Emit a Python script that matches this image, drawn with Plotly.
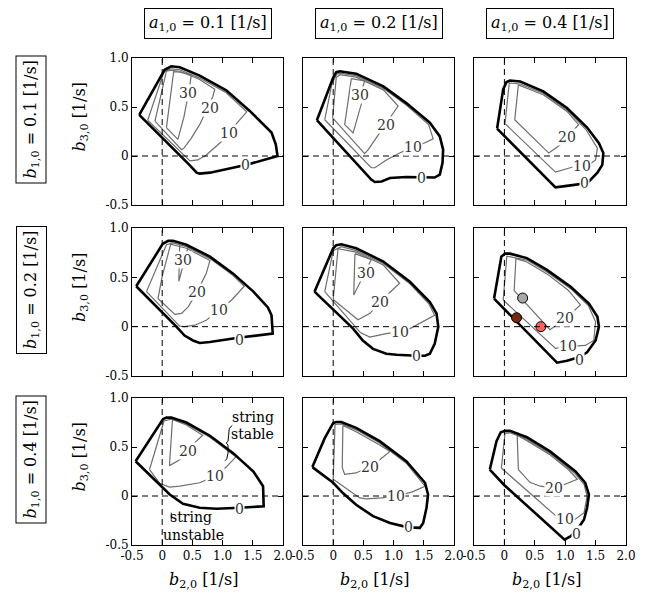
import plotly.graph_objects as go

# ---------------- data ----------------
COL_A = ["0.1", "0.2", "0.4"]          # a_{1,0} per column
ROW_B1 = ["0.1", "0.2", "0.4"]         # b_{1,0} per row
X_TICKVALS = [-0.5, 0, 0.5, 1.0, 1.5, 2.0]
X_TICKTEXT = ["-0.5", "0", "0.5", "1.0", "1.5", "2.0"]
Y_TICKVALS = [-0.5, 0, 0.5, 1.0]
Y_TICKTEXT = ["-0.5", "0", "0.5", "1.0"]

# panel (row 1, col 1)
P11_C0 = [(-0.38, 0.42), (0.04, 0.88), (0.15, 0.915), (0.29, 0.905), (0.62, 0.82), (1.06, 0.67), (1.45, 0.46),
          (1.81, 0.24), (1.88, 0.12), (1.91, 0.0), (1.40, -0.09), (0.79, -0.17), (0.62, -0.18), (0.57, -0.17),
          (0.45, -0.09), (-0.38, 0.42)]
P11_C10 = [(-0.24, 0.365), (0.03, 0.86), (0.15, 0.89), (0.29, 0.88), (0.62, 0.795), (1.06, 0.645), (1.40, 0.45),
           (1.23, 0.33), (1.11, 0.23), (0.95, 0.13), (0.73, 0.01), (0.59, -0.04), (0.46, -0.05), (-0.24, 0.365)]
P11_C20 = [(-0.12, 0.355), (0.07, 0.865), (0.15, 0.875), (0.29, 0.865), (0.62, 0.78), (0.87, 0.68), (0.84, 0.61),
           (0.74, 0.47), (0.62, 0.32), (0.48, 0.18), (0.36, 0.08), (0.32, 0.065), (-0.12, 0.355)]
P11_C30 = [(0.07, 0.29), (0.19, 0.86), (0.29, 0.855), (0.48, 0.83), (0.46, 0.72), (0.41, 0.55), (0.36, 0.40),
           (0.26, 0.17), (0.07, 0.29)]
P11_LABELS = [("0", 1.38, -0.095), ("10", 1.11, 0.23), ("20", 0.79, 0.49), ("30", 0.43, 0.64)]

# panel (row 1, col 2)
P12_C0 = [(-0.27, 0.365), (0.0, 0.80), (0.05, 0.855), (0.11, 0.865), (0.38, 0.84), (0.83, 0.71), (1.21, 0.54),
          (1.60, 0.34), (1.765, 0.20), (1.82, 0.065), (1.81, -0.07), (1.765, -0.19), (1.68, -0.22), (1.46, -0.22),
          (1.21, -0.215), (0.94, -0.225), (0.80, -0.26), (0.69, -0.265), (0.63, -0.24), (-0.27, 0.365)]
P12_C10 = [(-0.14, 0.37), (-0.02, 0.74), (0.06, 0.835), (0.11, 0.845), (0.38, 0.82), (0.83, 0.69), (1.21, 0.52),
           (1.58, 0.32), (1.655, 0.175), (1.50, 0.13), (1.32, 0.09), (1.10, 0.03), (0.88, -0.04), (0.69, -0.12),
           (0.63, -0.12), (-0.14, 0.37)]
P12_C20 = [(-0.01, 0.39), (0.05, 0.80), (0.11, 0.83), (0.38, 0.805), (0.83, 0.675), (1.075, 0.51), (0.94, 0.39),
           (0.87, 0.32), (0.77, 0.235), (0.58, 0.065), (0.52, 0.025), (-0.01, 0.39)]
P12_C30 = [(0.30, 0.79), (0.19, 0.32), (0.33, 0.235), (0.47, 0.54), (0.45, 0.62), (0.52, 0.765), (0.30, 0.79)]
P12_LABELS = [("0", 1.46, -0.22), ("10", 1.32, 0.09), ("20", 0.87, 0.32), ("30", 0.45, 0.62)]

# panel (row 1, col 3)
P13_C0 = [(-0.12, 0.28), (-0.02, 0.68), (0.035, 0.755), (0.09, 0.77), (0.26, 0.76), (0.64, 0.66), (1.03, 0.49),
          (1.36, 0.29), (1.555, 0.13), (1.627, 0.03), (1.61, -0.09), (1.53, -0.17), (1.39, -0.26), (1.31, -0.28),
          (1.09, -0.30), (0.84, -0.32), (-0.12, 0.28)]
P13_C10 = [(0.01, 0.33), (0.08, 0.745), (0.26, 0.735), (0.64, 0.64), (1.03, 0.47), (1.34, 0.27), (1.53, 0.08),
           (1.50, -0.04), (1.39, -0.09), (1.28, -0.105), (1.14, -0.11), (0.84, -0.165), (0.01, 0.33)]
P13_C20 = [(0.17, 0.37), (0.23, 0.725), (0.64, 0.625), (1.03, 0.455), (1.22, 0.32), (1.03, 0.195), (0.92, 0.115),
           (0.73, 0.03), (0.17, 0.37)]
P13_C30 = []
P13_LABELS = [("0", 1.31, -0.28), ("10", 1.28, -0.105), ("20", 1.03, 0.195)]

# panel (row 2, col 1)
P21_C0 = [(-0.43, 0.41), (0.01, 0.84), (0.10, 0.87), (0.18, 0.87), (0.40, 0.83), (0.79, 0.71), (1.17, 0.54),
          (1.51, 0.355), (1.75, 0.195), (1.81, 0.115), (1.83, -0.07), (1.285, -0.11), (0.79, -0.155), (0.62, -0.165),
          (0.51, -0.14), (0.37, -0.09), (0.235, 0.0), (-0.43, 0.41)]
P21_C10 = [(-0.26, 0.355), (0.07, 0.83), (0.18, 0.85), (0.40, 0.81), (0.79, 0.69), (1.17, 0.52), (1.36, 0.41),
           (1.15, 0.27), (0.94, 0.165), (0.73, 0.065), (0.54, 0.015), (0.37, 0.0), (0.29, 0.005), (-0.26, 0.355)]
P21_C20 = [(-0.07, 0.285), (0.0, 0.51), (0.14, 0.835), (0.40, 0.795), (0.79, 0.67), (0.73, 0.54), (0.58, 0.355),
           (0.43, 0.20), (0.32, 0.135), (0.21, 0.125), (-0.07, 0.285)]
P21_C30 = [(0.29, 0.83), (0.275, 0.46), (0.43, 0.81)]
P21_LABELS = [("0", 1.285, -0.135), ("10", 0.94, 0.165), ("20", 0.58, 0.355), ("30", 0.345, 0.68)]

# panel (row 2, col 2)
P22_C0 = [(-0.31, 0.355), (0.0, 0.795), (0.05, 0.825), (0.135, 0.835), (0.38, 0.795), (0.83, 0.66), (1.27, 0.455),
          (1.60, 0.25), (1.71, 0.135), (1.74, 0.0), (1.68, -0.175), (1.60, -0.275), (1.52, -0.295), (1.38, -0.295),
          (1.05, -0.285), (0.88, -0.275), (0.66, -0.225), (0.49, -0.14), (0.33, -0.02), (-0.31, 0.355)]
P22_C10 = [(-0.14, 0.355), (0.0, 0.77), (0.135, 0.81), (0.38, 0.77), (0.83, 0.64), (1.27, 0.435), (1.58, 0.235),
           (1.68, 0.115), (1.27, -0.02), (1.10, -0.05), (0.88, -0.07), (0.605, -0.105), (0.45, -0.06), (-0.14, 0.355)]
P22_C20 = [(0.0, 0.275), (0.08, 0.79), (0.38, 0.755), (0.83, 0.625), (1.10, 0.44), (0.94, 0.35), (0.77, 0.25),
           (0.61, 0.135), (0.41, 0.07), (0.0, 0.275)]
P22_C30 = [(0.36, 0.74), (0.34, 0.32), (0.54, 0.565), (0.63, 0.68), (0.36, 0.74)]
P22_LABELS = [("0", 1.38, -0.295), ("10", 1.10, -0.05), ("20", 0.77, 0.25), ("30", 0.54, 0.54)]

# panel (row 2, col 3)
P23_C0 = [(-0.17, 0.285), (-0.05, 0.71), (0.01, 0.74), (0.09, 0.74), (0.37, 0.695), (0.70, 0.575), (1.09, 0.405),
          (1.39, 0.235), (1.53, 0.10), (1.555, 0.0), (1.50, -0.14), (1.36, -0.26), (1.22, -0.31), (1.03, -0.345),
          (0.865, -0.365), (-0.17, 0.285)]
P23_C10 = [(-0.02, 0.27), (0.04, 0.715), (0.37, 0.675), (0.70, 0.555), (1.09, 0.385), (1.38, 0.215), (1.50, 0.05),
           (1.47, -0.14), (1.33, -0.19), (1.06, -0.20), (0.84, -0.22), (-0.02, 0.27)]
P23_C20 = [(0.16, 0.365), (0.19, 0.69), (0.37, 0.655), (0.70, 0.535), (1.05, 0.37), (1.25, 0.22), (1.0, 0.08),
           (0.75, -0.03), (0.16, 0.365)]
P23_C30 = []
P23_LABELS = [("0", 1.23, -0.335), ("10", 1.05, -0.195), ("20", 1.0, 0.085)]
P23_POINTS_X = [0.30, 0.20, 0.60]
P23_POINTS_Y = [0.29, 0.09, 0.0]
P23_POINT_COLORS = ["#a8a8a8", "#74290c", "#ff5f5f"]

# panel (row 3, col 1)
P31_C0 = [(-0.44, 0.355), (0.015, 0.785), (0.07, 0.80), (0.15, 0.80), (0.40, 0.75), (0.79, 0.615), (1.17, 0.44),
          (1.51, 0.25), (1.67, 0.10), (1.68, -0.105), (1.285, -0.12), (0.90, -0.13), (0.62, -0.12), (0.345, -0.08),
          (0.125, 0.015), (-0.015, 0.10), (-0.15, 0.185), (-0.44, 0.355)]
P31_C10 = [(-0.21, 0.27), (0.03, 0.765), (0.15, 0.785), (0.40, 0.735), (0.79, 0.60), (1.22, 0.40), (1.06, 0.295),
           (0.87, 0.20), (0.62, 0.135), (0.29, 0.10), (0.12, 0.09), (-0.04, 0.13), (-0.21, 0.27)]
P31_C20 = [(0.17, 0.78), (0.12, 0.31), (0.29, 0.37), (0.43, 0.46), (0.55, 0.55), (0.67, 0.62), (0.40, 0.725),
           (0.17, 0.78)]
P31_C30 = []
P31_LABELS = [("0", 1.285, -0.135), ("10", 0.87, 0.20), ("20", 0.43, 0.455)]
BRACE_STABLE = [(1.16, 0.72), (1.11, 0.69), (1.10, 0.62), (1.09, 0.56), (1.06, 0.54), (1.09, 0.52),
                (1.09, 0.44), (1.07, 0.38), (1.04, 0.36)]
BRACE_UNSTABLE = [(0.15, -0.17), (0.15, -0.24)]
NOTES_31 = [("string", 1.50, 0.81), ("stable", 1.50, 0.63), ("string", 0.48, -0.21), ("unstable", 0.51, -0.40)]

# panel (row 3, col 2)
P32_C0 = [(-0.345, 0.295), (-0.14, 0.59), (0.0, 0.745), (0.05, 0.755), (0.135, 0.755), (0.38, 0.695), (0.77, 0.56),
          (1.21, 0.355), (1.52, 0.135), (1.57, 0.015), (1.545, -0.12), (1.49, -0.275), (1.435, -0.325),
          (1.38, -0.325), (1.24, -0.32), (0.94, -0.275), (0.66, -0.205), (0.38, -0.09), (0.16, 0.03), (0.0, 0.135),
          (-0.345, 0.295)]
P32_C10 = [(0.0, 0.17), (0.03, 0.73), (0.135, 0.735), (0.38, 0.675), (0.77, 0.54), (1.21, 0.335), (1.52, 0.10),
           (1.30, 0.04), (1.04, 0.0), (0.80, -0.02), (0.55, -0.03), (0.44, -0.02), (0.0, 0.17)]
P32_C20 = [(0.16, 0.72), (0.15, 0.29), (0.19, 0.22), (0.38, 0.235), (0.605, 0.30), (0.74, 0.355), (0.94, 0.455),
           (0.77, 0.52), (0.38, 0.655), (0.16, 0.72)]
P32_C30 = []
P32_LABELS = [("0", 1.24, -0.315), ("10", 1.04, 0.0), ("20", 0.605, 0.30)]

# panel (row 3, col 3)
P33_C0 = [(-0.24, 0.27), (-0.13, 0.56), (-0.06, 0.65), (0.01, 0.665), (0.09, 0.665), (0.37, 0.60), (0.75, 0.455),
          (1.17, 0.25), (1.33, 0.135), (1.39, 0.015), (1.36, -0.12), (1.31, -0.24), (1.19, -0.35), (1.09, -0.41),
          (0.99, -0.445), (0.0, 0.11), (-0.24, 0.27)]
P33_C10 = [(-0.05, 0.285), (0.01, 0.64), (0.09, 0.645), (0.37, 0.58), (0.75, 0.435), (1.15, 0.235), (1.31, 0.12),
           (1.36, 0.0), (1.31, -0.17), (1.17, -0.235), (1.02, -0.24), (0.86, -0.21), (-0.05, 0.285)]
P33_C20 = [(0.23, 0.27), (0.21, 0.62), (0.37, 0.565), (0.75, 0.42), (1.05, 0.27), (1.20, 0.17), (0.975, 0.115),
           (0.81, 0.08), (0.59, 0.10), (0.42, 0.14), (0.23, 0.27)]
P33_C30 = []
P33_LABELS = [("0", 1.19, -0.39), ("10", 1.00, -0.235), ("20", 0.81, 0.08)]

PANELS = [
    [(P11_C0, P11_C10, P11_C20, P11_C30, P11_LABELS), (P12_C0, P12_C10, P12_C20, P12_C30, P12_LABELS),
     (P13_C0, P13_C10, P13_C20, P13_C30, P13_LABELS)],
    [(P21_C0, P21_C10, P21_C20, P21_C30, P21_LABELS), (P22_C0, P22_C10, P22_C20, P22_C30, P22_LABELS),
     (P23_C0, P23_C10, P23_C20, P23_C30, P23_LABELS)],
    [(P31_C0, P31_C10, P31_C20, P31_C30, P31_LABELS), (P32_C0, P32_C10, P32_C20, P32_C30, P32_LABELS),
     (P33_C0, P33_C10, P33_C20, P33_C30, P33_LABELS)],
]

# ---------------- layout ----------------
W, H = 652, 604
COL_PX = [(132, 283), (303, 454), (474, 626)]
ROW_PX = [(58, 205), (228, 376), (398, 545)]
FONT = "DejaVu Serif"
GREY = "#6e6e6e"

fig = go.Figure()
layout = dict(width=W, height=H, margin=dict(l=0, r=0, t=0, b=0, autoexpand=False), paper_bgcolor="white",
              plot_bgcolor="white", showlegend=False, font=dict(family=FONT, color="black"))
annotations = []
shapes = []


def ax_names(k):
    return ("x" if k == 1 else f"x{k}", "y" if k == 1 else f"y{k}")


def note(text, x, y, xref="paper", yref="paper", size=16, **kw):
    d = dict(text=text, x=x, y=y, xref=xref, yref=yref, showarrow=False, xanchor="center",
             yanchor="middle", font=dict(family=FONT, size=size, color=kw.pop("color", "black")))
    d.update(kw)
    return d


for r in range(3):
    for c in range(3):
        k = r * 3 + c + 1
        xn, yn = ax_names(k)
        xl = "xaxis" if k == 1 else f"xaxis{k}"
        yl = "yaxis" if k == 1 else f"yaxis{k}"
        layout[xl] = dict(domain=[COL_PX[c][0] / W, COL_PX[c][1] / W], anchor=yn, range=[-0.5, 2.0],
                          tickvals=X_TICKVALS, ticktext=X_TICKTEXT, ticks="inside", ticklen=5,
                          tickcolor="black", showline=True, linecolor="black", linewidth=1, mirror="ticks",
                          showgrid=False, zeroline=False, showticklabels=(r == 2), automargin=False,
                          tickfont=dict(family=FONT, size=12, color="black"))
        layout[yl] = dict(domain=[1 - ROW_PX[r][1] / H, 1 - ROW_PX[r][0] / H], anchor=xn, range=[-0.5, 1.0],
                          tickvals=Y_TICKVALS, ticktext=Y_TICKTEXT, ticks="inside", ticklen=5,
                          tickcolor="black", showline=True, linecolor="black", linewidth=1, mirror="ticks",
                          showgrid=False, zeroline=False, showticklabels=(c == 0), automargin=False,
                          tickfont=dict(family=FONT, size=12, color="black"))
        # dashed zero lines
        shapes.append(dict(type="line", xref=xn, yref=yn, x0=0, x1=0, y0=-0.5, y1=1.0,
                           line=dict(color="black", width=1, dash="6px,4px")))
        shapes.append(dict(type="line", xref=xn, yref=yn, x0=-0.5, x1=2.0, y0=0, y1=0,
                           line=dict(color="black", width=1, dash="6px,4px")))
        c0, c10, c20, c30, labels = PANELS[r][c]
        for pts in (c30, c20, c10):
            if pts:
                fig.add_trace(go.Scatter(x=[p[0] for p in pts], y=[p[1] for p in pts], mode="lines",
                                         line=dict(color=GREY, width=1.2), xaxis=xn, yaxis=yn,
                                         hoverinfo="skip"))
        fig.add_trace(go.Scatter(x=[p[0] for p in c0], y=[p[1] for p in c0], mode="lines",
                                 line=dict(color="black", width=2.6), xaxis=xn, yaxis=yn, hoverinfo="skip"))
        for txt, lx, ly in labels:
            annotations.append(note(txt, lx, ly, xn, yn, size=14, color="#333333", bgcolor="white",
                                    borderpad=0))
        if r == 1 and c == 2:
            fig.add_trace(go.Scatter(x=P23_POINTS_X, y=P23_POINTS_Y, mode="markers", xaxis=xn, yaxis=yn,
                                     marker=dict(size=10, color=P23_POINT_COLORS,
                                                 line=dict(color="black", width=1)), hoverinfo="skip"))
        if r == 2 and c == 0:
            for br in (BRACE_STABLE, BRACE_UNSTABLE):
                fig.add_trace(go.Scatter(x=[p[0] for p in br], y=[p[1] for p in br], mode="lines",
                                         line=dict(color="black", width=1), xaxis=xn, yaxis=yn,
                                         hoverinfo="skip"))
            for txt, lx, ly in NOTES_31:
                annotations.append(note(txt, lx, ly, xn, yn, size=14))

# column titles and x titles
for c in range(3):
    cx = (COL_PX[c][0] + COL_PX[c][1]) / 2 / W
    annotations.append(note(f"<i>a</i><sub>1,0</sub> = {COL_A[c]} [1/s]", cx, 1 - 24 / H,
                            bordercolor="black", borderwidth=1, borderpad=4))
    annotations.append(note("<i>b</i><sub>2,0</sub> [1/s]", cx - 4 / W, 1 - 580 / H))
# row titles and y titles
for r in range(3):
    cy = (ROW_PX[r][0] + ROW_PX[r][1]) / 2
    annotations.append(note(f"<i>b</i><sub>1,0</sub> = {ROW_B1[r]} [1/s]", 31 / W, 1 - (cy - 12) / H,
                            textangle=-90, bordercolor="black", borderwidth=1, borderpad=4))
    annotations.append(note("<i>b</i><sub>3,0</sub> [1/s]", 80 / W, 1 - (cy - 14) / H, textangle=-90))

layout["annotations"] = annotations
layout["shapes"] = shapes
fig.update_layout(**layout)
fig.write_html("out.html", config={"displayModeBar": False},
               post_script="document.body.style.margin='0px';document.body.style.padding='0px';")
